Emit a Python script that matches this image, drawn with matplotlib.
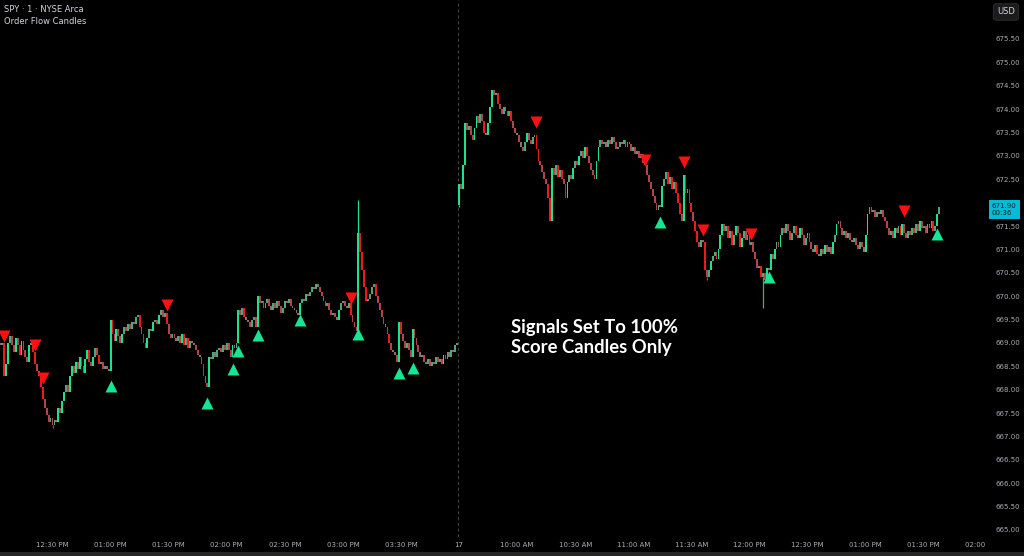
import matplotlib
matplotlib.use("Agg")
import matplotlib.pyplot as plt
from matplotlib.transforms import blended_transform_factory
from matplotlib.patches import Rectangle

# ---------------- data (1-minute candles) ----------------
day1_first_index = 3          # 12:03 PM (index = minutes after 12:00 PM, day 1)
day2_first_index = 240        # 09:30 AM of day 2
day1_open = 669.0
day1_close = [
    668.95, 669.0, 668.3, 668.55, 669.0, 669.15, 668.95, 668.8, 669.1, 668.95,
    668.75, 669.05, 668.85, 668.7, 668.6, 668.95, 669.0, 668.8, 668.55, 668.4,
    668.3, 668.05, 667.8, 667.6, 667.45, 667.3, 667.4, 667.25, 667.35, 667.3,
    667.6, 667.5, 667.75, 667.95, 668.1, 667.95, 668.3, 668.5, 668.35,
    668.6, 668.45, 668.7, 668.5, 668.35, 668.65, 668.85, 668.6, 668.5, 668.7,
    668.9, 668.75, 668.55, 668.6, 668.45, 668.5, 668.45, 668.4, 669.5, 669.2,
    669.05, 669.3, 669.15, 669.0, 669.2, 669.35, 669.25, 669.4, 669.3, 669.45,
    669.4, 669.55, 669.6, 669.35, 669.2, 669.0, 668.9, 669.1, 669.3, 669.25,
    669.45, 669.5, 669.4, 669.6, 669.7, 669.55, 669.65, 669.4, 669.2, 669.1,
    669.2, 669.1, 669.05, 669.15, 669.0, 669.2, 668.95, 669.1, 668.9, 669.05,
    669.0, 668.95, 668.85, 668.75, 668.7, 668.55, 668.3, 668.15, 668.05,
    668.7, 668.65, 668.8, 668.7, 668.85, 668.9, 668.8, 668.95, 668.85, 669.0,
    668.85, 668.7, 668.95, 668.9, 669.0, 669.7, 669.6, 669.75, 669.55, 669.5,
    669.45, 669.35, 669.5, 669.55, 669.35, 670.0, 669.85, 669.9, 669.75, 669.85,
    669.95, 669.8, 669.7, 669.85, 669.75, 669.9, 669.8, 669.65, 669.75, 669.9,
    669.85, 669.95, 669.8, 669.75, 669.7, 669.65, 669.6, 669.85, 669.95, 669.9,
    670.05, 670.0, 670.1, 670.2, 670.15, 670.25, 670.2, 670.1, 670.0, 669.9,
    669.8, 669.85, 669.7, 669.6, 669.65, 669.55, 669.5, 669.7, 669.85,
    669.9, 669.8, 669.75, 669.85, 669.6, 669.45, 669.35, 669.25, 671.35, 670.95,
    670.55, 670.2, 669.9, 669.95, 670.05, 670.2, 670.25, 670.0, 669.85, 669.7,
    669.55, 669.4, 669.35, 669.2, 669.0, 668.85, 668.8, 668.75, 668.6, 669.45,
    669.2, 669.05, 668.9, 669.0, 668.85, 668.7, 669.3, 669.1, 668.95, 668.8,
    668.7, 668.75, 668.6, 668.55, 668.65, 668.5, 668.6, 668.55, 668.7, 668.6,
    668.65, 668.55, 668.75, 668.65, 668.8, 668.7, 668.85, 668.8, 668.95, 669.0,
]
day2_open = 671.95
day2_close = [
    672.4, 672.3, 672.8, 673.7, 673.55, 673.65, 673.45, 673.35, 673.6, 673.85,
    673.7, 673.9, 673.75, 673.5, 673.45, 673.7, 674.05, 674.4, 674.3, 674.35,
    674.1, 674.0, 673.9, 674.05, 673.95, 673.85, 673.95, 673.75, 673.6,
    673.5, 673.45, 673.3, 673.2, 673.1, 673.3, 673.5, 673.35, 673.25, 673.4,
    673.45, 673.15, 672.9, 672.8, 672.65, 672.5, 672.4, 672.1, 671.6, 672.75,
    672.6, 672.8, 672.55, 672.7, 672.5, 672.4, 672.1, 672.45, 672.6, 672.5,
    672.75, 672.9, 672.8, 673.0, 673.1, 672.95, 673.2, 673.0, 672.85, 672.7,
    672.6, 672.5, 672.9, 673.2, 673.35, 673.25, 673.3, 673.2, 673.35, 673.25,
    673.4, 673.3, 673.15, 673.2, 673.3, 673.25, 673.35, 673.2, 673.3, 673.25,
    673.1, 673.2, 673.05, 673.1, 672.95, 673.05, 672.85, 672.8, 672.6, 672.45,
    672.3, 672.15, 672.0, 671.85, 671.95, 671.9, 672.35, 672.5, 672.65, 672.4,
    672.55, 672.3, 672.45, 672.2, 672.0, 671.75, 671.6, 672.6, 672.2, 672.3,
    672.0, 671.8, 671.6, 671.4, 671.15, 671.05, 671.2, 671.15, 670.55, 670.4,
    670.55, 670.75, 670.85, 670.95, 670.8, 671.0, 671.3, 671.55, 671.4,
    671.5, 671.25, 671.4, 671.1, 671.3, 671.5, 671.35, 671.05, 671.25, 671.4,
    671.2, 671.3, 671.1, 671.15, 670.95, 670.8, 670.6, 670.65, 670.4, 670.5,
    670.35, 670.6, 670.55, 670.9, 670.8, 671.0, 671.15, 671.05, 671.3, 671.45,
    671.35, 671.55, 671.4, 671.2, 671.35, 671.5, 671.3, 671.25, 671.45, 671.3,
    671.1, 671.25, 671.35, 671.15, 671.0, 670.95, 671.1, 670.9, 670.85, 671.0,
    670.9, 671.1, 670.95, 671.05, 670.9, 671.15, 671.3, 671.55, 671.6, 671.45,
    671.3, 671.4, 671.25, 671.35, 671.2, 671.15, 671.25, 671.1, 671.0,
    671.15, 671.05, 670.95, 671.3, 671.75, 671.9, 671.8, 671.85, 671.7, 671.8,
    671.75, 671.85, 671.7, 671.6, 671.45, 671.3, 671.4, 671.25, 671.45, 671.35,
    671.5, 671.3, 671.55, 671.35, 671.25, 671.4, 671.3, 671.45, 671.35, 671.55,
    671.4, 671.6, 671.45, 671.5, 671.35, 671.55, 671.45, 671.6, 671.4, 671.5,
    671.75, 671.9,
]
# notable wicks (index -> price)
wick_high = {188: 672.05}
wick_low = {30: 667.18, 240: 671.9, 368: 670.35, 397: 669.75}

# signal markers (index, price)
sig_down_idx = [5, 21, 25, 89, 184, 280, 336, 356, 366, 391, 470]
sig_down_px = [669.15, 668.96, 668.25, 669.81, 669.96, 673.72, 672.91, 672.87, 671.42, 671.33, 671.82]
sig_up_idx = [60, 110, 123, 126, 136, 158, 188, 209, 216, 344, 400, 487]
sig_up_px = [668.08, 667.72, 668.44, 668.83, 669.17, 669.49, 669.19, 668.36, 668.46, 671.59, 670.41, 671.33]

xtick_idx = [30, 60, 90, 120, 150, 180, 210, 240, 270, 300, 330, 360, 390, 420, 450, 480, 510]
xtick_labels = ["12:30 PM", "01:00 PM", "01:30 PM", "02:00 PM", "02:30 PM", "03:00 PM",
                "03:30 PM", "17", "10:00 AM", "10:30 AM", "11:00 AM", "11:30 AM",
                "12:00 PM", "12:30 PM", "01:00 PM", "01:30 PM", "02:00 PM"]
ytick_vals = [665.0, 665.5, 666.0, 666.5, 667.0, 667.5, 668.0, 668.5, 669.0, 669.5,
              670.0, 670.5, 671.0, 671.5, 672.0, 672.5, 673.0, 673.5, 674.0, 674.5,
              675.0, 675.5]
hidden_ytick = 672.0          # covered by the last-price label in the reference
session_break = 239.5
timer_text = "00:36"
title_line1 = "SPY · 1 · NYSE Arca"
title_line2 = "Order Flow Candles"
note_line1 = "Signals Set To 100%"
note_line2 = "Score Candles Only"

# ---------------- figure ----------------
W, H = 1024, 556
fig = plt.figure(figsize=(W / 100, H / 100), dpi=100, facecolor="black")
ax = fig.add_axes([0, 19 / H, 987 / W, 537 / H])
ax.set_facecolor("black")
for s in ax.spines.values():
    s.set_visible(False)

idx = list(range(day1_first_index, day1_first_index + len(day1_close))) + \
      list(range(day2_first_index, day2_first_index + len(day2_close)))
closes = day1_close + day2_close
opens = [day1_open] + day1_close[:-1] + [day2_open] + day2_close[:-1]

UP = ("#19e38c", "#4aa87c", "#6e8c7d")
DN = ("#f01919", "#b24646", "#8c6f6f")


def candle_color(o, c):
    pal = UP if c >= o else DN
    b = abs(c - o)
    if b >= 0.2:
        return pal[0]
    if b >= 0.1:
        return pal[1]
    return pal[2]


colors = [candle_color(o, c) for o, c in zip(opens, closes)]
bottoms = [min(o, c) for o, c in zip(opens, closes)]
heights = [abs(c - o) for o, c in zip(opens, closes)]
ax.bar(idx, heights, bottom=bottoms, width=0.95, color=colors, linewidth=0, zorder=3)

pos = {i: k for k, i in enumerate(idx)}
for i, hp in wick_high.items():
    k = pos[i]
    ax.vlines(i, max(opens[k], closes[k]), hp, color=colors[k], lw=0.9, zorder=3)
for i, lp in wick_low.items():
    k = pos[i]
    ax.vlines(i, lp, min(opens[k], closes[k]), color=colors[k], lw=0.9, zorder=3)

ax.plot(sig_down_idx, sig_down_px, linestyle="none", marker="v", ms=8.2,
        color="#ff1010", mec="none", zorder=4)
ax.plot(sig_up_idx, sig_up_px, linestyle="none", marker="^", ms=8.2,
        color="#14e693", mec="none", zorder=4)

ax.axvline(session_break, color="#4a4a4a", lw=0.7, ls=(0, (3, 3)), zorder=1)

ax.set_xlim(2.88, 512.7)
ax.set_ylim(664.85, 676.334)

ax.set_xticks(xtick_idx)
ax.set_xticklabels(xtick_labels)
ax.yaxis.tick_right()
ax.set_yticks(ytick_vals)
ax.set_yticklabels(["" if v == hidden_ytick else f"{v:.2f}" for v in ytick_vals])
ax.tick_params(axis="x", length=0, pad=3.5, labelsize=5, labelcolor="#a9acb4")
ax.tick_params(axis="y", length=0, pad=6, labelsize=5, labelcolor="#a9acb4")

# last price label
last_close = closes[-1]
trans = blended_transform_factory(ax.transAxes, ax.transData)
ax.annotate(f"{last_close:.2f}\n{timer_text}", xy=(1, last_close), xycoords=trans,
            xytext=(5, 4.0), textcoords="offset pixels", ha="left", va="top",
            fontsize=5, color="#0d1f24", linespacing=1.2, annotation_clip=False,
            bbox=dict(boxstyle="square,pad=0.42", fc="#00bcd4", ec="none"), zorder=10)

# cover the cut x label under the price scale, bottom strip
fig.add_artist(Rectangle((987 / W, 0), 37 / W, 19 / H, transform=fig.transFigure,
                         fc="black", ec="none", zorder=3))
fig.add_artist(Rectangle((0, 0), 1, 4 / H, transform=fig.transFigure,
                         fc="#262626", ec="none", zorder=4))

# USD box
fig.text(1006 / W, 1 - 12 / H, "USD", ha="center", va="center", fontsize=6,
         color="#d1d4dc", zorder=6,
         bbox=dict(boxstyle="round,pad=0.45,rounding_size=0.35", fc="#1c1c1c",
                   ec="#303030", lw=0.6))

# header texts
fig.text(4 / W, 1 - 9 / H, title_line1, ha="left", va="center", fontsize=6, color="#d1d4dc")
fig.text(4 / W, 1 - 22 / H, title_line2, ha="left", va="center", fontsize=6, color="#d1d4dc")

# annotation text
fig.text(511 / W, 1 - 328 / H, note_line1, ha="left", va="center", fontsize=13.3,
         fontweight="bold", family=["Lato", "DejaVu Sans"], color="white")
fig.text(511 / W, 1 - 347 / H, note_line2, ha="left", va="center", fontsize=13.3,
         fontweight="bold", family=["Lato", "DejaVu Sans"], color="white")

fig.savefig("out.png", dpi=100, facecolor="black")
